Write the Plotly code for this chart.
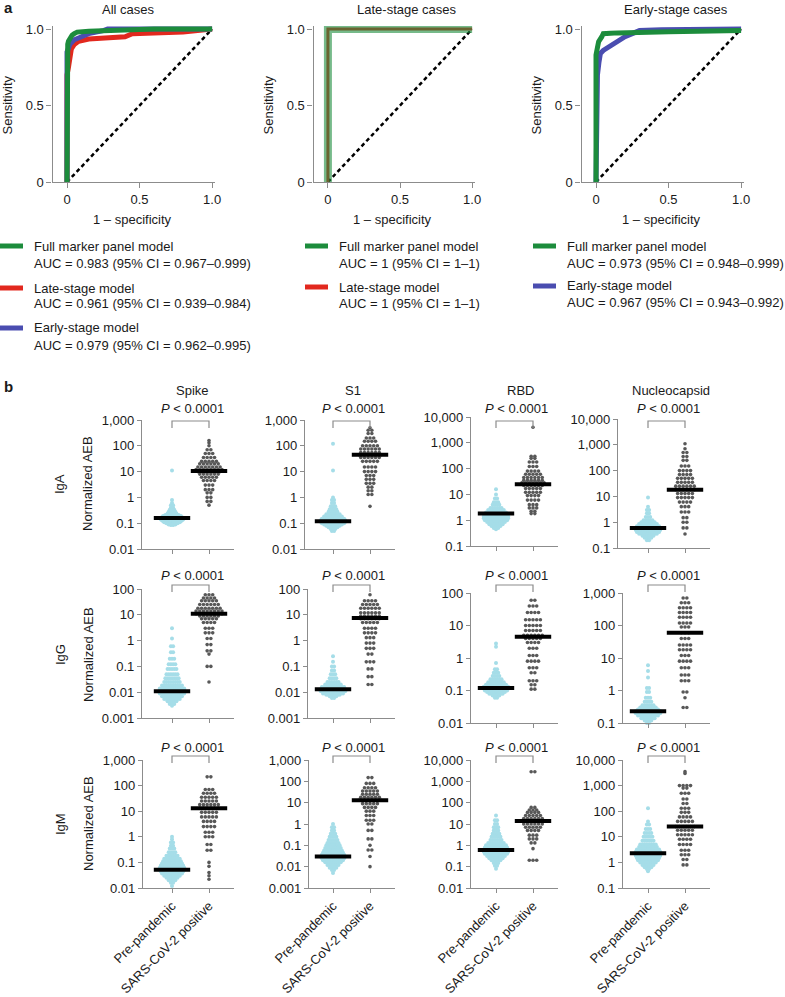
import plotly.graph_objects as go

W, H = 785, 997
FONT = "Liberation Sans, Arial, Helvetica, sans-serif"

GREEN = "#1c8c3c"
RED = "#e2281e"
BLUE = "#4a4db0"
PRE_COLOR = "#a5dde8"
POS_COLOR = "#585858"
AXIS_COLOR = "#8c8c8c"
TEXT_COLOR = "#1a1a1a"

# ---------------- panel a: ROC curves ----------------
roc_titles = ["All cases", "Late-stage cases", "Early-stage cases"]
roc_tickvals = [0, 0.5, 1]
roc_ticktext = ["0", "0.5", "1.0"]

all_full_fpr = [0, 0, 0.005, 0.01, 0.02, 0.035, 0.05, 0.07, 0.15, 0.3, 0.46, 0.6, 1.0]
all_full_tpr = [0, 0.88, 0.9, 0.92, 0.94, 0.96, 0.97, 0.98, 0.985, 0.99, 1.0, 1.0, 1.0]
all_late_fpr = [0, 0, 0.01, 0.02, 0.03, 0.05, 0.08, 0.15, 0.3, 0.4, 0.45, 0.8, 1.0]
all_late_tpr = [0, 0.7, 0.75, 0.82, 0.87, 0.9, 0.92, 0.935, 0.945, 0.95, 0.97, 0.98, 1.0]
all_early_fpr = [0, 0, 0.02, 0.05, 0.1, 0.15, 0.25, 0.28, 1.0]
all_early_tpr = [0, 0.85, 0.9, 0.93, 0.95, 0.97, 0.99, 1.0, 1.0]

late_full_fpr = [0, 0, 1.0]
late_full_tpr = [0, 1.0, 1.0]
late_late_fpr = [0, 0, 1.0]
late_late_tpr = [0, 1.0, 1.0]

early_full_fpr = [0, 0, 0.01, 0.018, 0.04, 0.05, 0.1, 0.15, 0.5, 1.0]
early_full_tpr = [0, 0.83, 0.88, 0.917, 0.95, 0.97, 0.972, 0.975, 0.983, 0.99]
early_early_fpr = [0, 0.005, 0.01, 0.02, 0.03, 0.05, 0.1, 0.15, 0.2, 0.25, 0.3, 0.45, 1.0]
early_early_tpr = [0, 0.57, 0.7, 0.78, 0.84, 0.86, 0.89, 0.92, 0.95, 0.97, 0.99, 0.995, 1.0]

legend_all = [("Full marker panel model", "AUC = 0.983 (95% CI = 0.967–0.999)", GREEN),
              ("Late-stage model", "AUC = 0.961 (95% CI = 0.939–0.984)", RED),
              ("Early-stage model", "AUC = 0.979 (95% CI = 0.962–0.995)", BLUE)]
legend_late = [("Full marker panel model", "AUC = 1 (95% CI = 1–1)", GREEN),
               ("Late-stage model", "AUC = 1 (95% CI = 1–1)", RED)]
legend_early = [("Full marker panel model", "AUC = 0.973 (95% CI = 0.948–0.999)", GREEN),
                ("Early-stage model", "AUC = 0.967 (95% CI = 0.943–0.992)", BLUE)]

# ---------------- panel b: normalized AEB (value, number of samples) ----------------
antigens = ["Spike", "S1", "RBD", "Nucleocapsid"]
isotypes = ["IgA", "IgG", "IgM"]
groups = ["Pre-pandemic", "SARS-CoV-2 positive"]

# y-axis ranges (log10) per isotype row and antigen column
axis_lo = [[-2, -2, -1, -1], [-3, -3, -2, -1], [-2, -3, -2, -1]]
axis_hi = [[3, 3, 4, 4], [2, 2, 2, 3], [3, 3, 4, 4]]

medians_pre = [[0.16, 0.12, 1.8, 0.6], [0.011, 0.013, 0.12, 0.23], [0.052, 0.03, 0.6, 2.3]]
medians_pos = [[10.5, 45, 25, 18], [11, 7.5, 4.5, 60], [13, 13, 14, 25]]

spike_iga_pre = [(11, 1), (0.8, 1), (0.6, 1), (0.5, 2), (0.4, 2), (0.33, 3), (0.28, 4), (0.24, 5),
                 (0.21, 7), (0.19, 9), (0.17, 10), (0.155, 11), (0.14, 11), (0.13, 10), (0.12, 9),
                 (0.11, 8), (0.1, 6), (0.09, 4), (0.085, 2)]
spike_iga_pos = [(160, 1), (130, 1), (100, 1), (70, 2), (50, 3), (35, 4), (25, 5), (20, 6), (15, 7),
                 (12, 8), (10, 7), (8, 6), (6, 5), (4.5, 4), (3, 3), (2, 3), (1.5, 2), (1, 2),
                 (0.7, 2), (0.5, 1)]
s1_iga_pre = [(120, 1), (11, 1), (1.0, 1), (0.8, 2), (0.6, 2), (0.45, 3), (0.35, 4), (0.28, 5),
              (0.22, 7), (0.18, 9), (0.15, 11), (0.13, 12), (0.115, 12), (0.1, 11), (0.09, 9),
              (0.08, 7), (0.07, 5), (0.06, 3), (0.05, 2)]
s1_iga_pos = [(500, 1), (400, 2), (300, 2), (200, 3), (150, 4), (100, 5), (75, 6), (55, 6), (45, 7),
              (35, 6), (25, 5), (15, 4), (10, 4), (7, 3), (5, 3), (3.5, 3), (2.5, 2), (1.8, 2),
              (1.3, 2), (0.45, 1)]
rbd_iga_pre = [(16, 1), (10, 1), (7, 2), (5, 3), (4, 4), (3, 6), (2.5, 8), (2, 10), (1.7, 11),
               (1.4, 12), (1.2, 12), (1.0, 11), (0.85, 9), (0.7, 7), (0.6, 5), (0.5, 3), (0.45, 1)]
rbd_iga_pos = [(4000, 1), (300, 2), (250, 2), (180, 3), (120, 3), (80, 4), (60, 5), (45, 6), (35, 6),
               (28, 7), (22, 6), (17, 5), (12, 5), (9, 4), (6, 4), (4, 3), (3, 3), (2.2, 2), (1.8, 2)]
nuc_iga_pre = [(9, 1), (4, 1), (3, 2), (2.2, 2), (1.6, 3), (1.2, 5), (1.0, 7), (0.85, 9), (0.7, 11),
               (0.6, 12), (0.5, 12), (0.42, 11), (0.36, 9), (0.3, 6), (0.25, 4), (0.2, 2)]
nuc_iga_pos = [(1100, 1), (700, 1), (500, 2), (350, 2), (250, 2), (150, 3), (100, 4), (70, 4), (50, 5),
               (35, 5), (25, 6), (18, 6), (13, 5), (9, 5), (6, 4), (4, 3), (2.5, 3), (1.5, 2), (1, 2),
               (0.6, 2), (0.35, 1)]

spike_igg_pre = [(3, 1), (1.2, 1), (0.6, 2), (0.35, 2), (0.2, 3), (0.12, 4), (0.08, 5), (0.05, 6),
                 (0.035, 7), (0.025, 8), (0.018, 10), (0.014, 12), (0.011, 12), (0.009, 12),
                 (0.007, 10), (0.0055, 8), (0.0045, 5), (0.0035, 3), (0.003, 1)]
spike_igg_pos = [(60, 3), (45, 4), (35, 5), (25, 6), (18, 7), (14, 8), (11, 8), (9, 6), (7, 5), (5, 4),
                 (3, 3), (2, 3), (1.2, 2), (0.7, 2), (0.4, 2), (0.3, 1), (0.1, 2), (0.025, 1)]
s1_igg_pre = [(0.25, 1), (0.15, 1), (0.1, 2), (0.07, 2), (0.05, 3), (0.035, 4), (0.025, 6), (0.02, 8),
              (0.016, 11), (0.013, 12), (0.011, 12), (0.009, 10), (0.008, 7), (0.007, 4), (0.006, 2)]
s1_igg_pos = [(60, 1), (35, 4), (25, 5), (18, 6), (12, 6), (9, 6), (7, 6), (5, 5), (3, 4), (2, 4),
              (1.3, 3), (0.8, 3), (0.5, 3), (0.3, 2), (0.15, 3), (0.08, 2), (0.04, 2), (0.02, 2)]
rbd_igg_pre = [(2.8, 1), (2.2, 1), (0.7, 1), (0.45, 2), (0.35, 3), (0.28, 4), (0.22, 6), (0.18, 8),
               (0.15, 10), (0.13, 12), (0.115, 12), (0.1, 11), (0.09, 9), (0.08, 7), (0.07, 4), (0.06, 2)]
rbd_igg_pos = [(60, 2), (40, 3), (25, 4), (15, 5), (10, 5), (7, 5), (5, 6), (4, 5), (3, 4), (2, 3),
               (1.2, 3), (0.8, 4), (0.5, 3), (0.35, 2), (0.2, 3), (0.15, 2), (0.11, 2)]
nuc_igg_pre = [(6, 1), (4, 1), (2.5, 1), (1.2, 2), (0.9, 2), (0.6, 3), (0.45, 4), (0.35, 6), (0.3, 8),
               (0.26, 10), (0.23, 12), (0.2, 12), (0.17, 10), (0.14, 7), (0.12, 4), (0.1, 2)]
nuc_igg_pos = [(700, 2), (500, 3), (350, 4), (250, 4), (180, 4), (120, 4), (90, 3), (60, 3), (40, 3),
               (25, 4), (18, 4), (12, 3), (8, 4), (5, 3), (3, 3), (2, 3), (0.9, 2), (0.6, 1), (0.3, 2)]

spike_igm_pre = [(1.0, 1), (0.8, 1), (0.6, 2), (0.45, 2), (0.35, 3), (0.25, 4), (0.18, 6), (0.14, 8),
                 (0.11, 9), (0.09, 10), (0.075, 11), (0.062, 12), (0.052, 12), (0.044, 11), (0.037, 10),
                 (0.03, 8), (0.025, 6), (0.02, 4), (0.016, 2), (0.012, 1)]
spike_igm_pos = [(220, 2), (70, 3), (50, 4), (35, 5), (25, 5), (18, 6), (13, 6), (9, 5), (6, 5), (4, 4),
                 (2.5, 4), (1.5, 3), (1, 3), (0.5, 2), (0.3, 2), (0.1, 1), (0.07, 1), (0.04, 1),
                 (0.03, 1), (0.022, 1)]
s1_igm_pre = [(1.0, 1), (0.7, 2), (0.5, 2), (0.35, 3), (0.25, 4), (0.18, 5), (0.13, 6), (0.1, 7),
              (0.075, 8), (0.058, 9), (0.045, 10), (0.036, 11), (0.03, 12), (0.025, 11), (0.02, 10),
              (0.016, 8), (0.012, 6), (0.009, 4), (0.007, 2), (0.005, 1)]
s1_igm_pos = [(150, 2), (80, 3), (50, 4), (35, 5), (25, 5), (18, 6), (13, 7), (9, 5), (6, 4), (4, 3),
              (2.5, 3), (1.5, 3), (1, 2), (0.5, 2), (0.2, 2), (0.1, 1), (0.06, 2), (0.03, 1), (0.01, 1)]
rbd_igm_pre = [(25, 1), (15, 2), (10, 2), (7, 3), (5, 3), (3.5, 4), (2.5, 5), (1.8, 6), (1.3, 8),
               (1.0, 10), (0.8, 11), (0.6, 12), (0.5, 12), (0.4, 11), (0.32, 9), (0.25, 7), (0.2, 5),
               (0.15, 3), (0.11, 2), (0.08, 1)]
rbd_igm_pos = [(2800, 2), (60, 2), (45, 3), (35, 4), (25, 5), (18, 6), (14, 7), (10, 6), (7, 5), (5, 4),
               (3, 3), (2, 3), (1.3, 2), (0.7, 1), (0.2, 3)]
nuc_igm_pre = [(130, 1), (40, 1), (30, 2), (20, 3), (14, 4), (10, 5), (7, 6), (5, 8), (4, 9), (3.2, 11),
               (2.6, 12), (2.2, 12), (1.8, 12), (1.5, 11), (1.2, 10), (1.0, 8), (0.8, 6), (0.65, 4),
               (0.55, 2), (0.45, 1)]
nuc_igm_pos = [(3500, 1), (3000, 1), (1000, 4), (800, 2), (500, 3), (300, 2), (200, 2), (130, 3),
               (90, 3), (60, 4), (40, 5), (25, 6), (18, 5), (12, 5), (8, 4), (5, 4), (3, 3), (2, 3),
               (1.3, 2), (0.8, 2)]

pre_data = [[spike_iga_pre, s1_iga_pre, rbd_iga_pre, nuc_iga_pre],
            [spike_igg_pre, s1_igg_pre, rbd_igg_pre, nuc_igg_pre],
            [spike_igm_pre, s1_igm_pre, rbd_igm_pre, nuc_igm_pre]]
pos_data = [[spike_iga_pos, s1_iga_pos, rbd_iga_pos, nuc_iga_pos],
            [spike_igg_pos, s1_igg_pos, rbd_igg_pos, nuc_igg_pos],
            [spike_igm_pos, s1_igm_pos, rbd_igm_pos, nuc_igm_pos]]

log_tick_text = {-3: "0.001", -2: "0.01", -1: "0.1", 0: "1", 1: "10", 2: "100", 3: "1,000", 4: "10,000"}

# ---------------- layout geometry (pixels) ----------------
roc_x_px = [(52.5, 215), (313.5, 475), (581.5, 744)]
roc_y_px = (26, 182)
col_tick0_px = [172, 333, 496, 648]
axis_start_px = [[142, 305, 471, 618], [142, 308, 471, 623], [143, 309, 471, 623]]
row_y_px = [[(420, 549), (420, 549), (417, 546), (419, 548)],
            [(589, 718), (589, 718), (593, 723), (593, 723)],
            [(760, 888)] * 4]
cat_px = 37.0
bracket_px = [(421, 428), (585, 592), (756, 763)]
pval_px = [409, 575, 747]
row_center_px = [484, 655, 824]
header_x_px = [192, 353, 520, 671]

fig = go.Figure()
layout = {}
annotations = []
shapes = []


def ax_suffix(n):
    return "" if n == 1 else str(n)


def base_axis():
    return dict(showline=True, linecolor=AXIS_COLOR, linewidth=1.3, ticks="outside",
                tickcolor=AXIS_COLOR, tickwidth=1.3, ticklen=5, showgrid=False, zeroline=False,
                automargin=False, tickfont=dict(size=13, color=TEXT_COLOR, family=FONT),
                fixedrange=True)


def text(x, y, s, size=13, xanchor="center", **kw):
    annotations.append(dict(x=x / W, y=1 - y / H, xref="paper", yref="paper", text=s,
                            xanchor=xanchor, yanchor="middle", showarrow=False,
                            font=dict(size=size, color=TEXT_COLOR, family=FONT), **kw))


def dot_rows(levels, center, step):
    xs, ys = [], []
    for value, count in levels:
        for i in range(count):
            xs.append(center + (i - (count - 1) / 2) * step)
            ys.append(value)
    return xs, ys


# ---- panel a ----
roc_curves = [
    [(all_late_fpr, all_late_tpr, RED, 5, 1), (all_early_fpr, all_early_tpr, BLUE, 5, 1),
     (all_full_fpr, all_full_tpr, GREEN, 5, 1)],
    [(late_late_fpr, late_late_tpr, RED, 3, 1), (late_full_fpr, late_full_tpr, GREEN, 8, 0.6)],
    [(early_early_fpr, early_early_tpr, BLUE, 5, 1), (early_full_fpr, early_full_tpr, GREEN, 5, 1)],
]
roc_legends = [legend_all, legend_late, legend_early]
roc_title_x = [128, 407, 676]
legend_line_x = [(0, 23), (305, 328), (533, 556)]
legend_rows = [[(246, 263), (288, 304), (328, 345)], [(246, 263), (287, 303)], [(246, 263), (286, 302)]]

for k in range(3):
    n = k + 1
    sfx = ax_suffix(n)
    x0, x1 = roc_x_px[k]
    xa = base_axis()
    xa.update(domain=[x0 / W, x1 / W], range=[-0.1, 1.02], tickvals=roc_tickvals,
              ticktext=roc_ticktext, anchor="y" + sfx)
    ya = base_axis()
    ya.update(domain=[1 - roc_y_px[1] / H, 1 - roc_y_px[0] / H], range=[0, 1.02],
              tickvals=roc_tickvals, ticktext=roc_ticktext, anchor="x" + sfx)
    layout["xaxis" + sfx] = xa
    layout["yaxis" + sfx] = ya

    fig.add_trace(go.Scatter(x=[0, 1], y=[0, 1], mode="lines", xaxis="x" + sfx, yaxis="y" + sfx,
                             line=dict(color="black", width=2.5, dash="4px,3px"), showlegend=False))
    for fpr, tpr, color, width, op in roc_curves[k]:
        fig.add_trace(go.Scatter(x=fpr, y=tpr, mode="lines", xaxis="x" + sfx, yaxis="y" + sfx,
                                 opacity=op, line=dict(color=color, width=width), showlegend=False))

    text(roc_title_x[k], 9, roc_titles[k])
    text((x0 + x1 - 3) / 2, 220, "1 – specificity")
    text(x0 - 46, 105, "Sensitivity", textangle=-90)

    lx0, lx1 = legend_line_x[k]
    for (name, auc, color), (y1, y2) in zip(roc_legends[k], legend_rows[k]):
        shapes.append(dict(type="line", xref="paper", yref="paper", x0=lx0 / W, x1=lx1 / W,
                           y0=1 - y1 / H, y1=1 - y1 / H, line=dict(color=color, width=5)))
        text(lx1 + 9, y1, name, xanchor="left")
        text(lx1 + 9, y2, auc, xanchor="left")

text(2, 7, "<b>a</b>", size=15, xanchor="left")
text(2, 386, "<b>b</b>", size=15, xanchor="left")

# ---- panel b ----
n = 4
for r in range(3):
    for c in range(4):
        sfx = ax_suffix(n)
        start = axis_start_px[r][c]
        tick0 = col_tick0_px[c]
        end = tick0 + cat_px + 25
        xa = base_axis()
        xa.update(domain=[start / W, end / W], range=[-(tick0 - start) / cat_px, 1 + 25 / cat_px],
                  tickvals=[0, 1], ticktext=groups, tickangle=-45, ticklen=4,
                  showticklabels=(r == 2), anchor="y" + sfx)
        top, bot = row_y_px[r][c]
        lo, hi = axis_lo[r][c], axis_hi[r][c]
        ya = base_axis()
        ya.update(domain=[1 - bot / H, 1 - top / H], type="log", range=[lo, hi],
                  tickvals=[10 ** e for e in range(lo, hi + 1)],
                  ticktext=[log_tick_text[e] for e in range(lo, hi + 1)], ticklen=4,
                  anchor="x" + sfx)
        layout["xaxis" + sfx] = xa
        layout["yaxis" + sfx] = ya

        px_, py_ = dot_rows(pre_data[r][c], 0, 0.06)
        fig.add_trace(go.Scatter(x=px_, y=py_, mode="markers", xaxis="x" + sfx, yaxis="y" + sfx,
                                 marker=dict(color=PRE_COLOR, size=4), cliponaxis=False,
                                 showlegend=False))
        qx, qy = dot_rows(pos_data[r][c], 1, 0.1)
        fig.add_trace(go.Scatter(x=qx, y=qy, mode="markers", xaxis="x" + sfx, yaxis="y" + sfx,
                                 marker=dict(color=POS_COLOR, size=3.6), cliponaxis=False,
                                 showlegend=False))
        fig.add_trace(go.Scatter(x=[0, 1], y=[medians_pre[r][c], medians_pos[r][c]], mode="markers",
                                 xaxis="x" + sfx, yaxis="y" + sfx, cliponaxis=False,
                                 marker=dict(symbol="line-ew", size=26,
                                             line=dict(color="black", width=4)),
                                 showlegend=False))

        by0, by1 = bracket_px[r]
        shapes.append(dict(type="path", xref="x" + sfx, yref="paper",
                           path=f"M 0,{1 - by1 / H} L 0,{1 - by0 / H} L 1,{1 - by0 / H} L 1,{1 - by1 / H}",
                           line=dict(color=AXIS_COLOR, width=1.2)))
        annotations.append(dict(x=0.55, y=1 - pval_px[r] / H, xref="x" + sfx, yref="paper",
                                text="<i>P</i> < 0.0001", showarrow=False,
                                xanchor="center", yanchor="middle",
                                font=dict(size=13, color=TEXT_COLOR, family=FONT)))
        n += 1

for c in range(4):
    text(header_x_px[c], 390, antigens[c])
for r in range(3):
    text(60, row_center_px[r], isotypes[r], textangle=-90)
    text(88, row_center_px[r], "Normalized AEB", textangle=-90)

fig.update_layout(width=W, height=H, margin=dict(l=0, r=0, t=0, b=0, autoexpand=False),
                  paper_bgcolor="white", plot_bgcolor="white",
                  font=dict(family=FONT, size=13, color=TEXT_COLOR),
                  showlegend=False, annotations=annotations, shapes=shapes, **layout)

# the page body has a default 8px margin; remove it so the figure sits at the window origin
fig.write_html("out.html", config={"displayModeBar": False},
               post_script="document.body.style.margin='0';")
